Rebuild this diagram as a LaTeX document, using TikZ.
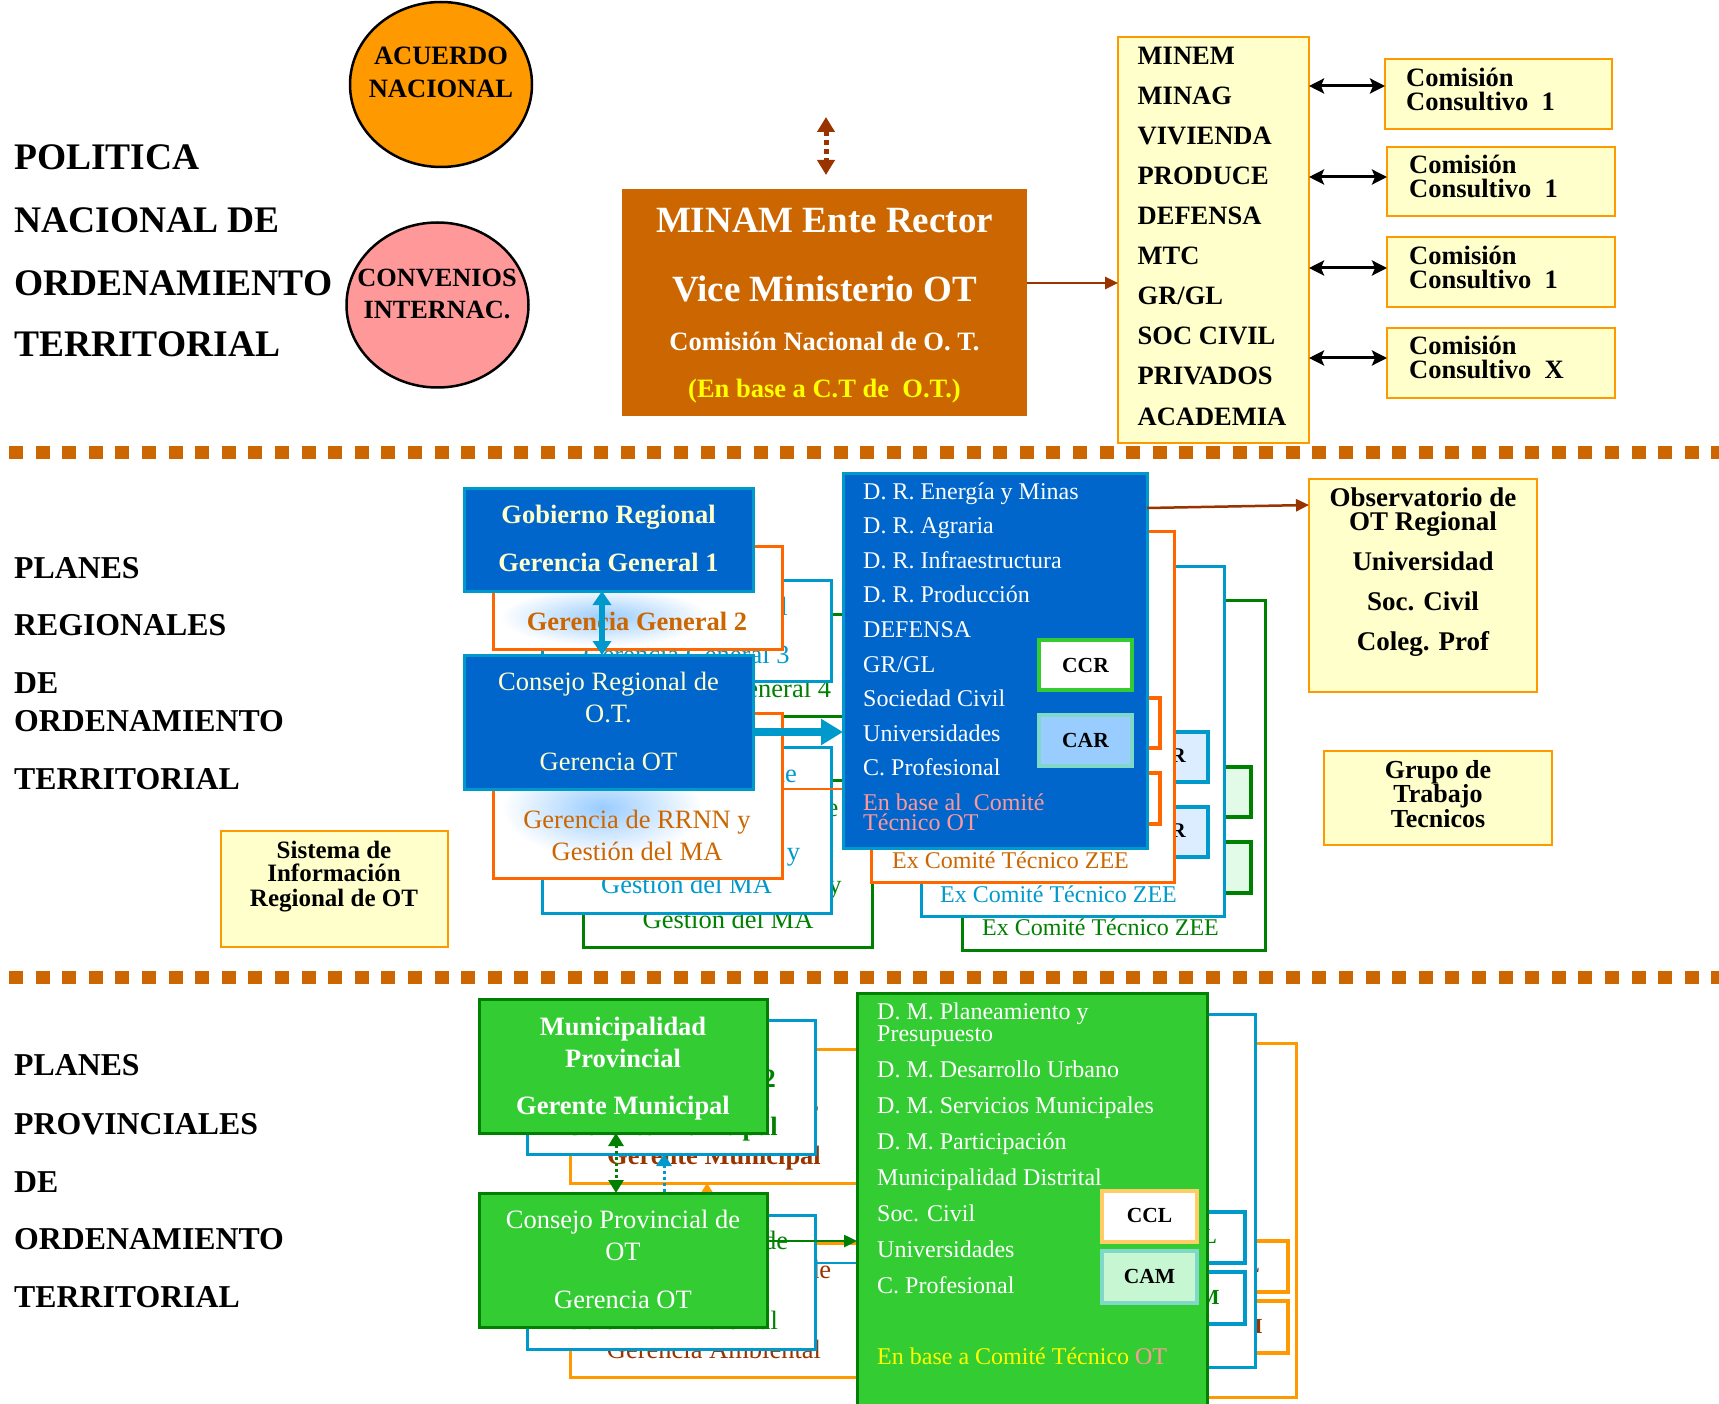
\documentclass[tikz,border=0pt]{standalone}
\usepackage{fontspec}
\setmainfont{Liberation Serif}
\usetikzlibrary{arrows.meta,shapes.geometric}
\definecolor{brownor}{HTML}{CC6600}
\definecolor{lyellow}{HTML}{FFFFCC}
\definecolor{boxorange}{HTML}{FF9900}
\definecolor{regblue}{HTML}{0066CC}
\definecolor{skyc}{HTML}{0099CC}
\definecolor{layorange}{HTML}{FF6600}
\definecolor{dgreen}{HTML}{008000}
\definecolor{lgreen}{HTML}{33CC33}
\definecolor{dred}{HTML}{993300}
\definecolor{salmon}{HTML}{FF9999}
\definecolor{carfill}{HTML}{99CCFF}
\definecolor{aqua}{HTML}{80D8C8}
\definecolor{cclb}{HTML}{FFCC66}
\definecolor{camfill}{HTML}{C6F7D2}
\definecolor{ylw}{HTML}{FFFF00}
\newcommand\fsz[1]{\fontsize{#1}{#1}\selectfont}
\begin{document}
\begin{tikzpicture}[x=1pt,y=-1pt,
  rect/.style={draw,inner sep=0pt,outer sep=0pt,anchor=north west},
  ct/.style={anchor=base,inner sep=0pt},
  lt/.style={anchor=base west,inner sep=0pt},
  rt/.style={anchor=base east,inner sep=0pt},
  ybox/.style={rect,fill=lyellow,draw=boxorange,line width=2.5pt},
  bbox/.style={rect,fill=regblue,draw=skyc,line width=3pt},
  wcard/.style={rect,fill=white,line width=3pt},
  gbox/.style={rect,fill=lgreen,draw=dgreen,line width=3pt},
  sbox/.style={rect,line width=4.5pt},
  oval/.style={ellipse,draw=black,line width=2.5pt,minimum width=182pt,minimum height=165pt,inner sep=0pt},
  sepline/.style={brownor,line width=13pt,dash pattern=on 14pt off 12.6pt},
  dblk/.style={black,line width=3pt,{Stealth[length=15pt,width=15pt,inset=3pt]}-{Stealth[length=15pt,width=15pt,inset=3pt]}},
  thinarr/.style={line width=2.5pt,-{Triangle[length=13pt,width=12pt]}},
  bigtitle/.style={lt,font=\fsz{37.5}\bfseries},
  sectitle/.style={lt,font=\fsz{31.8}\bfseries},
  listtxt/.style={lt,font=\fsz{26.5}\bfseries}
]
\fill[white] (0,0) rectangle (1719,1404);
\useasboundingbox (0,0) rectangle (1719,1404);

% separators
\coordinate (s1a) at (9,452); \coordinate (s1b) at (1719,452);
\draw[sepline] (s1a) -- (s1b);
\coordinate (s2a) at (9,977); \coordinate (s2b) at (1719,977);
\draw[sepline] (s2a) -- (s2b);

% ================= TOP =================
\node[bigtitle] (pol1) at (14,170) {POLITICA};
\node[bigtitle] (pol2) at (14,233) {NACIONAL DE};
\node[bigtitle] (pol3) at (14,296) {ORDENAMIENTO};
\node[bigtitle] (pol4) at (14,357) {TERRITORIAL};

\node[oval,fill=boxorange] (acu) at (441,84.5) {};
\node[ct,font=\fsz{26.5}\bfseries] (acu1) at (441,65) {ACUERDO};
\node[ct,font=\fsz{26.5}\bfseries] (acu2) at (441,98) {NACIONAL};
\node[oval,fill=salmon] (conv) at (437.5,305) {};
\node[ct,font=\fsz{26.3}\bfseries] (conv1) at (437,287) {CONVENIOS};
\node[ct,font=\fsz{26.3}\bfseries] (conv2) at (437,319) {INTERNAC.};

\node[rect,draw=none,fill=brownor,minimum width=405,minimum height=227] (minam) at (622,189) {};
\node[ct,text=white,font=\fsz{37}\bfseries] (minam1) at (824.5,233) {MINAM Ente Rector};
\node[ct,text=white,font=\fsz{37}\bfseries] (minam2) at (824.5,302) {Vice Ministerio OT};
\node[ct,text=white,font=\fsz{26.5}\bfseries] (minam3) at (824.5,351) {Comisión Nacional de O. T.};
\node[ct,text=ylw,font=\fsz{26.5}\bfseries] (minam4) at (824.5,398) {(En base a C.T de\ \ O.T.)};

\coordinate (dA) at (826,117); \coordinate (dB) at (826,175);
\draw[dred,line width=5pt,dash pattern=on 5pt off 4pt,{Triangle[length=15pt,width=17pt]}-{Triangle[length=15pt,width=17pt]}] (dA) -- (dB);

\node[ybox,minimum width=191,minimum height=406] (minem) at (1118,37) {};
\foreach \t [count=\i] in {MINEM,MINAG,VIVIENDA,PRODUCE,DEFENSA,MTC,{GR/GL},SOC CIVIL,PRIVADOS,ACADEMIA}
  \node[listtxt] (mn\i) at (1137.5,25+40*\i) {\t};

\coordinate (ma) at ([yshift=19.5pt]minam.east);
\draw[dred,thinarr] (ma) -- (ma -| minem.west);

\node[ybox,minimum width=227,minimum height=70] (com1) at (1385,59) {};
\node[ybox,minimum width=228,minimum height=69] (com2) at (1387,147) {};
\node[ybox,minimum width=228,minimum height=70] (com3) at (1387,237) {};
\node[ybox,minimum width=228,minimum height=70] (com4) at (1387,328) {};
\node[listtxt] (c1a) at (1406,87) {Comisión};
\node[listtxt] (c1b) at (1406,111) {Consultivo\ \ 1};
\node[listtxt] (c2a) at (1409,174) {Comisión};
\node[listtxt] (c2b) at (1409,198) {Consultivo\ \ 1};
\node[listtxt] (c3a) at (1409,265) {Comisión};
\node[listtxt] (c3b) at (1409,289) {Consultivo\ \ 1};
\node[listtxt] (c4a) at (1409,355) {Comisión};
\node[listtxt] (c4b) at (1409,379) {Consultivo\ \ X};
\coordinate (r1) at ([yshift=8pt]com1.west);
\coordinate (r2) at ([yshift=4.5pt]com2.west);
\coordinate (r3) at ([yshift=4pt]com3.west);
\coordinate (r4) at ([yshift=5pt]com4.west);
\draw[dblk] (r1 -| minem.east) -- (r1);
\draw[dblk] (r2 -| minem.east) -- (r2);
\draw[dblk] (r3 -| minem.east) -- (r3);
\draw[dblk] (r4 -| minem.east) -- (r4);

% ================= MIDDLE =================
\node[sectitle] (pr1) at (14,578) {PLANES};
\node[sectitle] (pr2) at (14,635) {REGIONALES};
\node[sectitle] (pr3) at (14,693) {DE};
\node[sectitle] (pr4) at (14,731) {ORDENAMIENTO};
\node[sectitle] (pr5) at (14,789) {TERRITORIAL};

\node[ybox,minimum width=227,minimum height=116] (sis) at (221,831) {};
\node[ct,font=\fsz{25}\bfseries] (sis1) at (334,858) {Sistema de};
\node[ct,font=\fsz{25}\bfseries] (sis2) at (334,881) {Información};
\node[ct,font=\fsz{25}\bfseries] (sis3) at (334,906) {Regional de OT};

% --- green layer
\node[wcard,draw=dgreen,minimum width=289,minimum height=102] (gA) at (583,614) {};
\node[ct,text=dgreen,font=\fsz{26.5}] (gA2) at (728,697) {Gerencia General 4};
\node[wcard,draw=dgreen,minimum width=289,minimum height=167] (gB) at (583,780) {};
\node[ct,text=dgreen,font=\fsz{26.5}] (gB1) at (728,816) {Consejo Regional de};
\node[ct,text=dgreen,font=\fsz{26.5}] (gB3) at (728,893) {Gerencia de RRNN y};
\node[ct,text=dgreen,font=\fsz{26.5}] (gB4) at (728,928) {Gestión del MA};
\node[wcard,draw=dgreen,minimum width=303,minimum height=350] (gEx) at (962,600) {};
\node[lt,text=dgreen,font=\fsz{24}] (gExt) at (982,935) {Ex Comité Técnico ZEE};
\node[sbox,draw=dgreen,fill=camfill!50,minimum width=93,minimum height=50] (gS1) at (1158,767) {};
\node[sbox,draw=dgreen,fill=camfill!50,minimum width=93,minimum height=51] (gS2) at (1158,842) {};

% --- cyan layer
\node[wcard,draw=skyc,minimum width=289,minimum height=101] (cA) at (542,580) {};
\node[ct,text=skyc,font=\fsz{26.5}] (cA1) at (686.5,615) {Gobierno Regional};
\node[ct,text=skyc,font=\fsz{26.5}] (cA2) at (686.5,663) {Gerencia General 3};
\node[wcard,draw=skyc,minimum width=289,minimum height=166] (cB) at (542,747) {};
\node[ct,text=skyc,font=\fsz{26.5}] (cB1) at (686.5,782) {Consejo Regional de};
\node[ct,text=skyc,font=\fsz{26.5}] (cB3) at (686.5,860) {Gerencia de RRNN y};
\node[ct,text=skyc,font=\fsz{26.5}] (cB4) at (686.5,893) {Gestión del MA};
\node[wcard,draw=skyc,minimum width=303,minimum height=350] (cEx) at (921,566) {};
\node[lt,text=skyc,font=\fsz{24}] (cExt) at (940,902) {Ex Comité Técnico ZEE};
\node[sbox,draw=skyc,fill=carfill!35,minimum width=91,minimum height=50] (cS1) at (1117,732) {};
\node[sbox,draw=skyc,fill=carfill!35,minimum width=91,minimum height=50] (cS2) at (1117,807) {};
\node[ct,font=\fsz{21}\bfseries] (cS1t) at (1163,762) {CCR};
\node[ct,font=\fsz{21}\bfseries] (cS2t) at (1163,837) {CAR};

% --- orange layer
\node[wcard,draw=layorange,minimum width=289,minimum height=103] (oA) at (493,546) {};
\shade[inner color=carfill,outer color=white] (605,617) ellipse [x radius=105,y radius=29];
\node[ct,text=brownor,font=\fsz{26.5}\bfseries] (oA2) at (637,630) {Gerencia General 2};
\node[wcard,draw=layorange,minimum width=289,minimum height=165] (oB) at (493,713) {};
\shade[inner color=carfill,outer color=white] (602,808) ellipse [x radius=100,y radius=50];
\node[ct,text=brownor,font=\fsz{26.5}] (oB3) at (637,828) {Gerencia de RRNN y};
\node[ct,text=brownor,font=\fsz{26.5}] (oB4) at (637,860) {Gestión del MA};
\node[wcard,draw=layorange,minimum width=303,minimum height=351] (oEx) at (871,531) {};
\node[lt,text=brownor,font=\fsz{24}] (oExt) at (892,868) {Ex Comité Técnico ZEE};
\node[sbox,draw=layorange,fill=white,minimum width=93,minimum height=50] (oS1) at (1067,698) {};
\node[sbox,draw=layorange,fill=white,minimum width=93,minimum height=51] (oS2) at (1067,773) {};
\coordinate (oa) at ([yshift=6.5pt]oB.east);
\draw[layorange,thinarr] (oa) -- (oa -| oEx.west);

% --- blue (front) layer
\node[bbox,minimum width=289,minimum height=103] (gob) at (464,488) {};
\node[ct,text=lyellow,font=\fsz{26.5}\bfseries] (gob1) at (608.5,523) {Gobierno Regional};
\node[ct,text=lyellow,font=\fsz{26.5}\bfseries] (gob2) at (608.5,571) {Gerencia General 1};
\node[bbox,minimum width=289,minimum height=134] (con) at (464,655) {};
\node[ct,text=lyellow,font=\fsz{26.5}] (con1) at (608.5,690) {Consejo Regional de};
\node[ct,text=lyellow,font=\fsz{26.5}] (con2) at (608.5,722) {O.T.};
\node[ct,text=lyellow,font=\fsz{26.5}] (con3) at (608.5,770) {Gerencia OT};
\draw[skyc,line width=6pt,{Triangle[length=14pt,width=18pt]}-{Triangle[length=14pt,width=18pt]}] ([xshift=-6.5pt]gob.south) -- ([xshift=-6.5pt]con.north);

\node[bbox,minimum width=304,minimum height=375] (dr) at (843,473) {};
\foreach \t/\yy [count=\i] in {D. R. Energía y Minas/499,D. R. Agraria/533,D. R. Infraestructura/568,D. R. Producción/602,DEFENSA/637,{GR/GL}/672,Sociedad Civil/706,Universidades/741,C. Profesional/775}
  \node[lt,text=white,font=\fsz{24}] (dr\i) at (863,\yy) {\t};
\node[lt,text=salmon,font=\fsz{24}] (drp1) at (863,810) {En base al\ \ Comité};
\node[lt,text=salmon,font=\fsz{24}] (drp2) at (863,830) {Técnico OT};
\node[sbox,draw=lgreen,fill=white,minimum width=93,minimum height=50] (ccr) at (1039,640) {};
\node[sbox,draw=aqua,fill=carfill,minimum width=93,minimum height=51] (car) at (1039,715) {};
\node[ct,font=\fsz{21.5}\bfseries] (ccrt) at (1085.5,672) {CCR};
\node[ct,font=\fsz{21.5}\bfseries] (cart) at (1085.5,747) {CAR};

\coordinate (ta) at ([yshift=-10pt]con.east);
\draw[skyc,line width=8pt,-{Triangle[length=22pt,width=25pt]}] (ta) -- (ta -| dr.west);

\node[ybox,minimum width=228,minimum height=213] (obs) at (1309,479) {};
\node[ct,font=\fsz{27}\bfseries] (obs1) at (1423,506) {Observatorio de};
\node[ct,font=\fsz{27}\bfseries] (obs2) at (1423,530) {OT Regional};
\node[ct,font=\fsz{27}\bfseries] (obs3) at (1423,570) {Universidad};
\node[ct,font=\fsz{27}\bfseries] (obs4) at (1423,610) {Soc. Civil};
\node[ct,font=\fsz{27}\bfseries] (obs5) at (1423,650) {Coleg. Prof};
\coordinate (da) at ([yshift=152.5pt]dr.east);
\coordinate (db) at ([yshift=80.5pt]obs.west);
\draw[dred,thinarr] (da) -- (db);

\node[ybox,minimum width=228,minimum height=94] (grp) at (1324,751) {};
\node[ct,font=\fsz{26}\bfseries] (grp1) at (1438,778) {Grupo de};
\node[ct,font=\fsz{26}\bfseries] (grp2) at (1438,802) {Trabajo};
\node[ct,font=\fsz{26}\bfseries] (grp3) at (1438,827) {Tecnicos};

% ================= BOTTOM =================
\node[sectitle] (pp1) at (14,1075) {PLANES};
\node[sectitle] (pp2) at (14,1134) {PROVINCIALES};
\node[sectitle] (pp3) at (14,1192) {DE};
\node[sectitle] (pp4) at (14,1249) {ORDENAMIENTO};
\node[sectitle] (pp5) at (14,1307) {TERRITORIAL};

% --- orange layer
\node[wcard,draw=boxorange,minimum width=288,minimum height=134] (oMA) at (570,1049) {};
\node[rt,text=dred,font=\fsz{26.5}\bfseries] (oMA2) at (819,1113) {Provincial 3};
\node[ct,text=dred,font=\fsz{26.5}\bfseries] (oMA3) at (714,1164) {Gerente Municipal};
\node[wcard,draw=boxorange,minimum width=288,minimum height=134] (oCB) at (570,1243) {};
\node[ct,text=dred,font=\fsz{26.5}] (oCB1) at (714,1278) {Consejo Provincial de};
\node[ct,text=dred,font=\fsz{26.5}] (oCB3) at (714,1358) {Gerencia Ambiental};
\draw[boxorange,line width=3pt,dash pattern=on 3pt off 3pt,{Triangle[length=12pt,width=14pt]}-{Triangle[length=12pt,width=14pt]}] ([xshift=-7pt]oMA.south) -- ([xshift=-7pt]oCB.north);
\node[wcard,draw=boxorange,minimum width=348,minimum height=354] (oDM) at (948,1043) {};
\node[sbox,draw=boxorange,fill=white,minimum width=95,minimum height=51] (oCCL) at (1193,1241) {};
\node[sbox,draw=boxorange,fill=white,minimum width=95,minimum height=52] (oCAM) at (1193,1301) {};
\node[ct,text=dred,font=\fsz{21.5}\bfseries] (oCCLt) at (1237,1272) {CCL};
\node[ct,text=dred,font=\fsz{21.5}\bfseries] (oCAMt) at (1237,1333) {CAM};

% --- cyan layer
\node[wcard,draw=skyc,minimum width=288,minimum height=134] (cMA) at (527,1020) {};
\node[rt,text=dgreen,font=\fsz{26.5}\bfseries] (cMA2) at (776,1087) {Provincial 2};
\node[ct,text=dgreen,font=\fsz{26.5}\bfseries] (cMA3) at (671,1135) {Gerente Municipal};
\node[wcard,draw=skyc,minimum width=288,minimum height=134] (cCB) at (527,1215) {};
\node[ct,text=dgreen,font=\fsz{26.5}] (cCB1) at (671,1249) {Consejo Provincial de};
\node[ct,text=dgreen,font=\fsz{26.5}] (cCB3) at (671,1329) {Gerencia Ambiental};
\draw[skyc,line width=3pt,dash pattern=on 3pt off 3pt,{Triangle[length=12pt,width=15pt]}-{Triangle[length=12pt,width=15pt]}] ([xshift=-7pt]cMA.south) -- ([xshift=-7pt]cCB.north);
\node[wcard,draw=skyc,minimum width=350,minimum height=353] (cDM) at (905,1014) {};
\node[sbox,draw=skyc,fill=white,minimum width=95,minimum height=51] (cCCL) at (1150,1212) {};
\node[sbox,draw=skyc,fill=white,minimum width=95,minimum height=52] (cCAM) at (1150,1272) {};
\node[ct,text=dgreen,font=\fsz{21.5}\bfseries] (cCCLt) at (1194,1243) {CCL};
\node[ct,text=dgreen,font=\fsz{21.5}\bfseries] (cCAMt) at (1194,1304) {CAM};
\coordinate (cca) at ([yshift=19pt]cCB.east);
\draw[skyc,thinarr] (cca) -- (cca -| cDM.west);

% --- green (front) layer
\node[gbox,minimum width=288,minimum height=134] (muni) at (479,999) {};
\node[ct,text=white,font=\fsz{26.5}\bfseries] (muni1) at (623,1035) {Municipalidad};
\node[ct,text=white,font=\fsz{26.5}\bfseries] (muni2) at (623,1067) {Provincial};
\node[ct,text=white,font=\fsz{26.5}\bfseries] (muni3) at (623,1114) {Gerente Municipal};
\node[gbox,minimum width=288,minimum height=134] (cpo) at (479,1193) {};
\node[ct,text=white,font=\fsz{26.5}] (cpo1) at (623,1228) {Consejo Provincial de};
\node[ct,text=white,font=\fsz{26.5}] (cpo2) at (623,1260) {OT};
\node[ct,text=white,font=\fsz{26.5}] (cpo3) at (623,1308) {Gerencia OT};
\draw[dgreen,line width=3pt,dash pattern=on 3pt off 3pt,{Triangle[length=13pt,width=15pt]}-{Triangle[length=13pt,width=15pt]}] ([xshift=-7pt]muni.south) -- ([xshift=-7pt]cpo.north);

\node[gbox,minimum width=350,minimum height=430] (dm) at (857,993) {};
\coordinate (gca) at ([yshift=19pt]cpo.east);
\draw[dgreen,thinarr] (gca) -- (gca -| dm.west);
\foreach \t/\yy [count=\i] in {D. M. Planeamiento y/1019,Presupuesto/1041,D. M. Desarrollo Urbano/1077,D. M. Servicios Municipales/1113,D. M. Participación/1149,Municipalidad Distrital/1185,Soc. Civil/1221,Universidades/1257,C. Profesional/1293}
  \node[lt,text=white,font=\fsz{24}] (dm\i) at (877,\yy) {\t};
\node[lt,text=ylw,font=\fsz{24}] (dmb) at (877,1364) {En base a Comité Técnico \textcolor{salmon}{OT}};
\node[sbox,draw=cclb,fill=white,minimum width=95,minimum height=51] (ccl) at (1102,1191) {};
\node[sbox,draw=aqua,fill=camfill,minimum width=95,minimum height=52] (cam) at (1102,1251) {};
\node[ct,font=\fsz{21.5}\bfseries] (cclt) at (1149.5,1222) {CCL};
\node[ct,font=\fsz{21.5}\bfseries] (camt) at (1149.5,1283) {CAM};
\end{tikzpicture}
\end{document}
